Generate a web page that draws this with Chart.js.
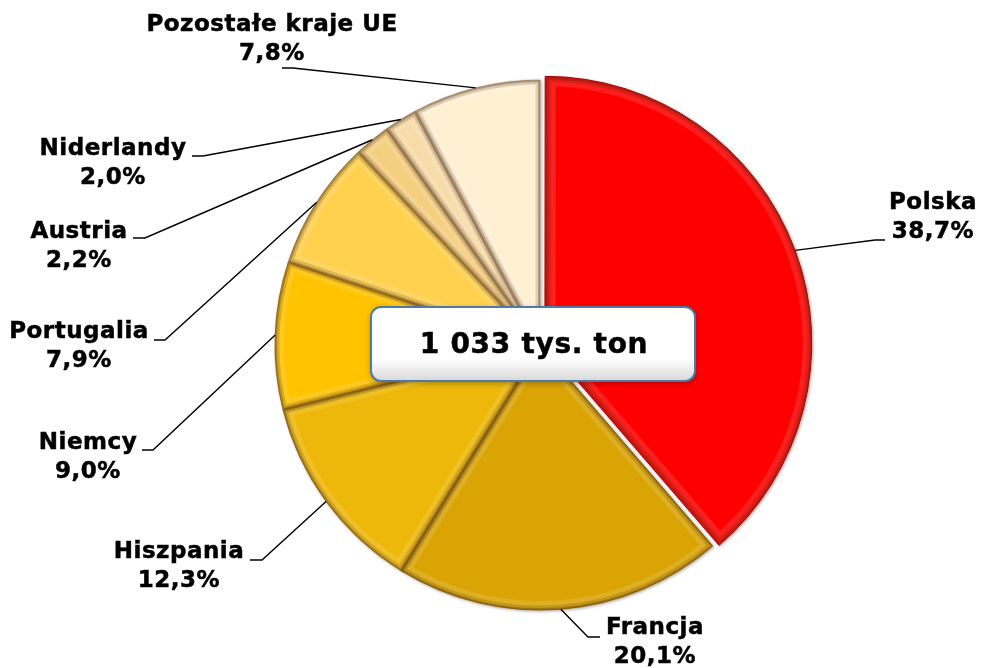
<!DOCTYPE html>
<html>
<head>
<meta charset="utf-8">
<script src="https://cdn.jsdelivr.net/npm/chart.js@4/dist/chart.umd.min.js"></script>
<style>
  html,body{margin:0;padding:0;background:#fff;}
  #wrap{width:981px;height:668px;position:relative;}
</style>
</head>
<body>
<div id="wrap"><canvas id="pie"></canvas></div>
<script>
// ===== data =====
const countries = ['Polska','Francja','Hiszpania','Niemcy','Portugalia','Austria','Niderlandy','Pozostałe kraje UE'];
const shares    = [38.7, 20.1, 12.3, 9.0, 7.9, 2.2, 2.0, 7.8];
const totalText = '1 033 tys. ton';

// ===== look =====
const fills   = ['#ff0000','#d9a404','#eeb80a','#ffc300','#ffd14e','#f5cf80','#f7dcaa','#fff0d2'];
const edges   = ['#a00000','#8a6400','#9a7400','#a87c00','#b08a30','#a88a50','#ab9470','#b8a88c'];
const offsets = [21,0,0,0,0,0,0,0];   // chart.js v4 draws offset/4 (+ a small fix)

// label layout: text centre x, first line middle y, elbow x/y, stub end x
const labelPos = [
  {tx:933, ty:203, ex:875, ey:240, hx:885},
  {tx:655, ty:628, ex:588, ey:637, hx:600},
  {tx:179, ty:552, ex:262, ey:560, hx:250},
  {tx:88,  ty:443, ex:153, ey:450, hx:142},
  {tx:79,  ty:332, ex:165, ey:340, hx:154},
  {tx:79,  ty:232, ex:145, ey:238, hx:133},
  {tx:113, ty:149, ex:203, ey:156, hx:192},
  {tx:272, ty:25,  ex:293, ey:68,  hx:282}
];
const fmtPct = v => v.toFixed(1).replace('.', ',') + '%';

// same shift chart.js applies when it draws an offset arc
function arcShift(a, p){
  const off = (a.options.offset || 0) / 4;
  const circ = p.endAngle - p.startAngle;
  const fix = 1 - Math.sin(Math.min(Math.PI, circ || 0));
  return off + off*fix;
}

function arcPath(ctx, a){
  const p = a.getProps(['x','y','startAngle','endAngle','outerRadius'], true);
  const sh = arcShift(a, p);
  const mid = (p.startAngle + p.endAngle)/2;
  const cx = p.x + Math.cos(mid)*sh, cy = p.y + Math.sin(mid)*sh;
  ctx.beginPath();
  ctx.moveTo(cx, cy);
  ctx.arc(cx, cy, p.outerRadius, p.startAngle, p.endAngle);
  ctx.closePath();
}

// bevel-ish edge shading inside every slice
const bevelPlugin = {
  id:'bevel',
  beforeDatasetsDraw(chart){
    const ctx = chart.ctx;
    ctx.save();
    ctx.shadowColor = 'rgba(60,30,0,0.35)';
    ctx.shadowBlur = 3;
    ctx.shadowOffsetX = 1;
    ctx.shadowOffsetY = 1;
  },
  afterDatasetsDraw(chart){
    const ctx = chart.ctx;
    ctx.restore();
    chart.getDatasetMeta(0).data.forEach(a=>{
      ctx.save();
      arcPath(ctx, a);
      ctx.clip();
      ctx.strokeStyle = 'rgba(255,255,255,0.12)'; ctx.lineWidth = 18; ctx.stroke();
      ctx.strokeStyle = 'rgba(70,30,0,0.16)'; ctx.lineWidth = 9; ctx.stroke();
      ctx.strokeStyle = 'rgba(70,30,0,0.25)'; ctx.lineWidth = 4; ctx.stroke();
      ctx.restore();
    });
  }
};

// leader lines, labels and the centre box
const labelPlugin = {
  id:'labels',
  afterDraw(chart){
    const ctx = chart.ctx;
    const arcs = chart.getDatasetMeta(0).data;
    ctx.save();
    arcs.forEach((a,i)=>{
      const p = a.getProps(['x','y','startAngle','endAngle','outerRadius'], true);
      const sh = arcShift(a, p);
      const mid = (p.startAngle + p.endAngle)/2;
      const ax = p.x + Math.cos(mid)*(p.outerRadius + sh);
      const ay = p.y + Math.sin(mid)*(p.outerRadius + sh);
      const L = labelPos[i];
      ctx.strokeStyle = '#000'; ctx.lineWidth = 1.4;
      ctx.beginPath();
      ctx.moveTo(ax, ay); ctx.lineTo(L.ex, L.ey); ctx.lineTo(L.hx, L.ey);
      ctx.stroke();
      ctx.fillStyle = '#000';
      ctx.font = 'bold 23px "DejaVu Sans", Verdana, sans-serif';
      ctx.letterSpacing = '0.5px';
      ctx.textAlign = 'center'; ctx.textBaseline = 'middle';
      ctx.lineWidth = 0.5;
      [countries[i], fmtPct(shares[i])].forEach((t,k)=>{
        ctx.fillText(t, L.tx, L.ty + k*29);
        ctx.strokeText(t, L.tx, L.ty + k*29);
      });
    });

    // centre box
    const bx = 371, by = 307, bw = 324, bh = 74, r = 10;
    ctx.save();
    ctx.shadowColor = 'rgba(0,0,0,0.35)'; ctx.shadowBlur = 6; ctx.shadowOffsetY = 2;
    ctx.beginPath();
    ctx.roundRect(bx, by, bw, bh, r);
    const g = ctx.createLinearGradient(0, by, 0, by+bh);
    g.addColorStop(0, '#ffffff'); g.addColorStop(0.7, '#ffffff'); g.addColorStop(1, '#d8d8d8');
    ctx.fillStyle = g; ctx.fill();
    ctx.restore();
    ctx.beginPath();
    ctx.roundRect(bx, by, bw, bh, r);
    ctx.strokeStyle = '#4f79a6'; ctx.lineWidth = 2; ctx.stroke();
    ctx.fillStyle = '#000';
    ctx.font = 'bold 28px "DejaVu Sans", Verdana, sans-serif';
    ctx.letterSpacing = '0.7px';
    ctx.textAlign = 'center'; ctx.textBaseline = 'middle';
    ctx.fillText(totalText, 534, 346);
    ctx.lineWidth = 0.5; ctx.strokeStyle = '#000';
    ctx.strokeText(totalText, 534, 346);
    ctx.restore();
  }
};

new Chart(document.getElementById('pie').getContext('2d'), {
  type:'pie',
  data:{ labels:countries, datasets:[{ data:shares, backgroundColor:fills, borderColor:edges, borderWidth:1, offset:offsets }] },
  options:{
    responsive:true, maintainAspectRatio:false, animation:false,
    layout:{ padding:{ left:240, right:141, top:69, bottom:47 } },
    plugins:{ legend:{ display:false }, tooltip:{ enabled:false } }
  },
  plugins:[bevelPlugin, labelPlugin]
});
</script>
</body>
</html>
